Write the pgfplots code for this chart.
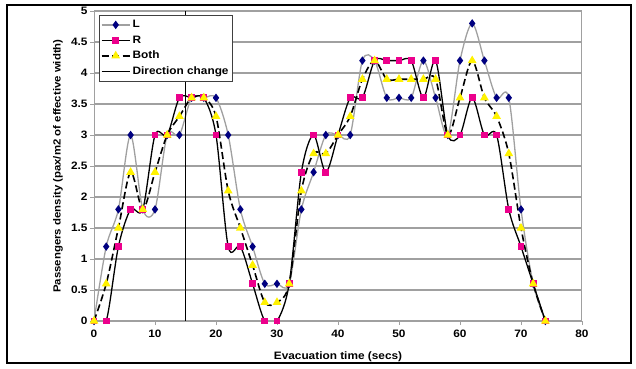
\documentclass[border=0pt]{standalone}
\usepackage{fontspec}
\setmainfont{Liberation Sans}[FakeStretch=1.1]
\usepackage{pgfplots}
\usepackage{pgfplotstable}
\pgfplotsset{compat=1.18}
\definecolor{navyblue}{HTML}{000080}
\definecolor{gridgray}{HTML}{A0A0A0}
\pgfplotstableread{
x L R B
0 0 0 0
2 1.2 0 0.6
4 1.8 1.2 1.5
6 3.0 1.8 2.4
8 1.8 1.8 1.8
10 1.8 3.0 2.4
12 3.0 3.0 3.0
14 3.0 3.6 3.3
16 3.6 3.6 3.6
18 3.6 3.6 3.6
20 3.6 3.0 3.3
22 3.0 1.2 2.1
24 1.8 1.2 1.5
26 1.2 0.6 0.9
28 0.6 0 0.3
30 0.6 0 0.3
32 0.6 0.6 0.6
34 1.8 2.4 2.1
36 2.4 3.0 2.7
38 3.0 2.4 2.7
40 3.0 3.0 3.0
42 3.0 3.6 3.3
44 4.2 3.6 3.9
46 4.2 4.2 4.2
48 3.6 4.2 3.9
50 3.6 4.2 3.9
52 3.6 4.2 3.9
54 4.2 3.6 3.9
56 3.6 4.2 3.9
58 3.0 3.0 3.0
60 4.2 3.0 3.6
62 4.8 3.6 4.2
64 4.2 3.0 3.6
66 3.6 3.0 3.3
68 3.6 1.8 2.7
70 1.8 1.2 1.5
72 0.6 0.6 0.6
74 0 0 0
}\datatable
\begin{document}
\begin{tikzpicture}
\useasboundingbox (0,0) rectangle (636bp,369bp);
\draw[line width=1.5bp] (7bp,6bp) rectangle (631bp,364bp);
\begin{axis}[
  at={(94bp,48bp)}, anchor=south west,
  scale only axis, width=488bp, height=310bp,
  xmin=0, xmax=80, ymin=0, ymax=5,
  xtick={0,10,...,80},
  ytick={0,0.5,1,1.5,2,2.5,3,3.5,4,4.5,5},
  yticklabels={0,0.5,1,1.5,2,2.5,3,3.5,4,4.5,5},
  ymajorgrids,
  grid style={gridgray, line width=1.3bp},
  axis line style={gridgray, line width=1bp},
  tick style={gridgray, line width=0.8bp},
  tick align=outside, xtick pos=bottom, ytick pos=left,
  major tick length=4bp,
  /pgf/number format/assume math mode=true,
  tick label style={font=\bfseries\fontsize{10.8}{13}\selectfont},
  xticklabel style={yshift=-1bp},
  yticklabel style={xshift=1bp},
  xlabel={Evacuation time (secs)},
  ylabel={Passengers density (pax/m2 of effective width)},
  xlabel style={font=\bfseries\fontsize{10.8}{13}\selectfont, at={(axis description cs:0.5,-0.116)}, anchor=center},
  ylabel style={font=\bfseries\fontsize{10.4}{13}\selectfont, at={(axis description cs:-0.074,0.5)}, anchor=center},
  legend cell align=left,
  legend style={at={(axis description cs:0.0102,0.987)}, anchor=north west,
    draw=black!75, line width=0.8bp, font=\bfseries\fontsize{10.8}{13}\selectfont,
    row sep=2.5bp, inner sep=1.5bp, inner ysep=3bp},
  legend image code/.code={\draw[mark repeat=2,mark phase=2,#1] plot coordinates {(0bp,0bp)(14bp,0bp)(28bp,0bp)};},
]
\addplot[smooth, gridgray, line width=1.3bp, mark=diamond*, mark size=3.2bp, mark options={fill=navyblue, draw=navyblue, solid}] table[x=x, y=L] {\datatable};
\addlegendentry{L}
\addplot[smooth, black, line width=1.3bp, mark=square*, mark size=2.8bp, mark options={fill=magenta, draw=magenta, solid}] table[x=x, y=R] {\datatable};
\addlegendentry{R}
\addplot[smooth, black, line width=1.6bp, dash pattern=on 7bp off 3.5bp, mark=triangle*, mark size=3.5bp, mark options={fill=yellow, draw=yellow, solid}] table[x=x, y=B] {\datatable};
\addlegendentry{Both}
\addplot[black, line width=1.7bp] coordinates {(15,0) (15,5)};
\addlegendentry{Direction change}
\end{axis}
\end{tikzpicture}
\end{document}
